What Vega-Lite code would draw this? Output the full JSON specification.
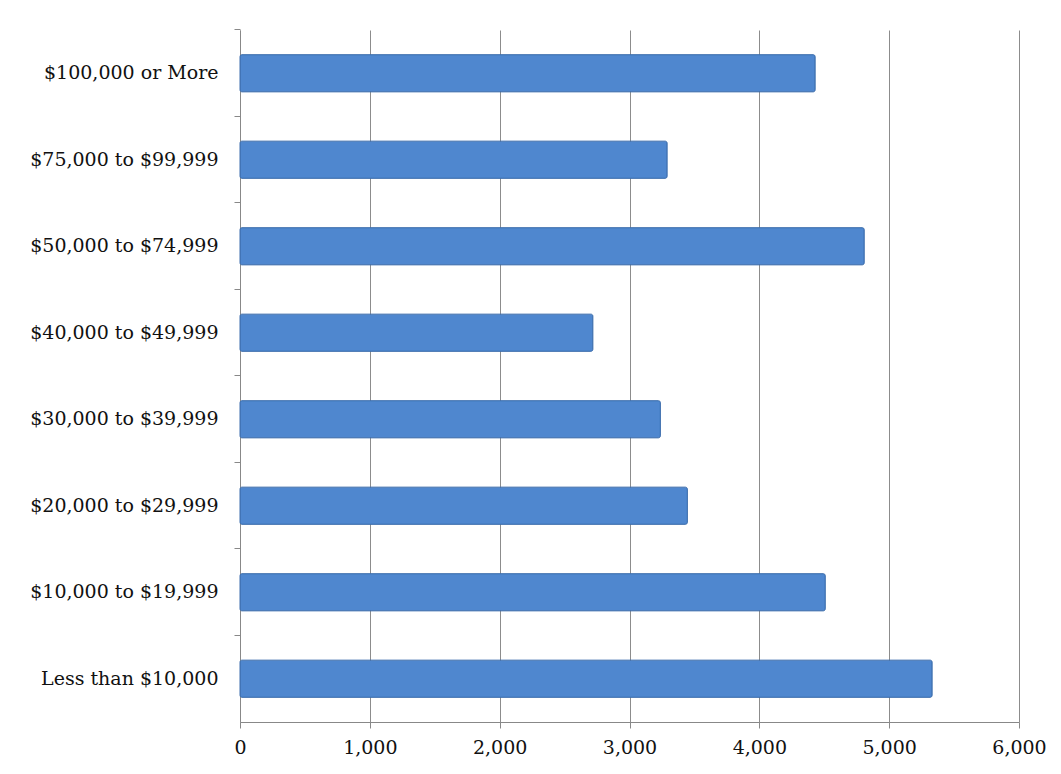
{
  "$schema": "https://vega.github.io/schema/vega-lite/v6.json",
  "autosize": {"type": "none"},
  "width": 779,
  "height": 692,
  "padding": {"left": 240, "top": 30, "right": 42, "bottom": 52},
  "background": "white",
  "config": {"view": {"stroke": null}},
  "data": {"values": [
    {"income": "$100,000 or More", "value": 4430},
    {"income": "$75,000 to $99,999", "value": 3290},
    {"income": "$50,000 to $74,999", "value": 4808},
    {"income": "$40,000 to $49,999", "value": 2718},
    {"income": "$30,000 to $39,999", "value": 3238},
    {"income": "$20,000 to $29,999", "value": 3446},
    {"income": "$10,000 to $19,999", "value": 4508},
    {"income": "Less than $10,000", "value": 5331}
  ]},
  "mark": {"type": "bar", "fill": "#4F87CF", "stroke": "#3E6FAE", "strokeWidth": 1, "cornerRadius": 2},
  "encoding": {
    "y": {
      "field": "income", "type": "nominal", "sort": null,
      "scale": {"paddingInner": 0.57, "paddingOuter": 0.285},
      "axis": {
        "title": null, "labelFont": "DejaVu Serif", "labelFontSize": 19, "labelColor": "#111",
        "labelPadding": 16, "labelLimit": 400, "domainColor": "#888", "tickColor": "#888", "tickSize": 6,
        "bandPosition": -0.6628, "grid": false
      }
    },
    "x": {
      "field": "value", "type": "quantitative",
      "scale": {"domain": [0, 6000], "nice": false},
      "axis": {
        "title": null, "values": [0, 1000, 2000, 3000, 4000, 5000, 6000], "format": ",d",
        "labelFont": "DejaVu Serif", "labelFontSize": 19, "labelColor": "#111", "labelPadding": 10,
        "domainColor": "#888", "tickColor": "#888", "tickSize": 6, "grid": true, "gridColor": "#8c8c8c",
        "labelFlush": false
      }
    }
  }
}
